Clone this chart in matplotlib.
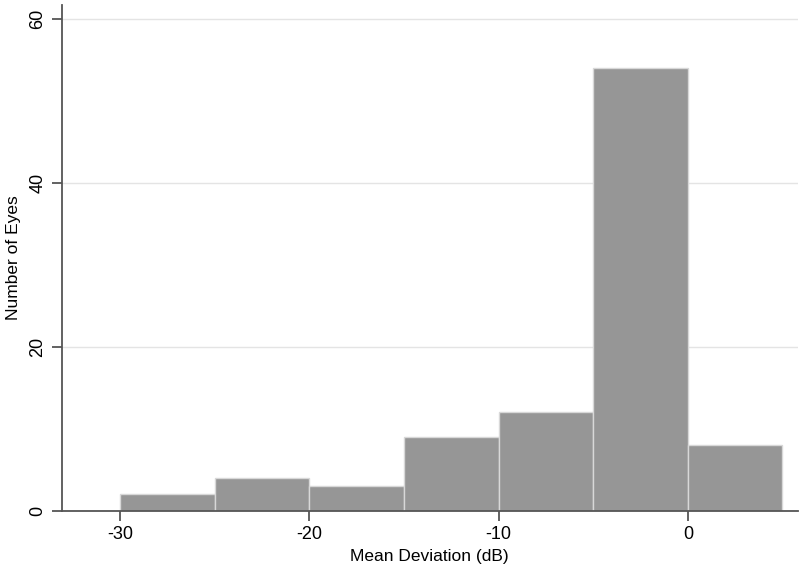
import matplotlib
matplotlib.use("Agg")
from matplotlib import pyplot

# histogram of mean deviation, 5 dB bins
bin_edges = [-30, -25, -20, -15, -10, -5, 0, 5]
counts = [2, 4, 3, 9, 12, 54, 8]
x_ticks = [-30, -20, -10, 0]
y_ticks = [0, 20, 40, 60]

pyplot.rcParams['font.family'] = ['Liberation Sans', 'DejaVu Sans']
pyplot.rcParams['axes.unicode_minus'] = False

fig = pyplot.figure(figsize=(8, 5.72), dpi=100, facecolor='w')
ax = fig.add_axes([0.077, 0.107, 0.92, 0.884])

widths = [bin_edges[i + 1] - bin_edges[i] for i in range(len(counts))]
ax.bar(bin_edges[:-1], counts, width=widths, align='edge', color='#969696',
       edgecolor='#d8d8d8', linewidth=1, zorder=2)

ax.set_xlim(-33.1, 5.8)
ax.set_ylim(0, 61.7)
ax.set_xticks(x_ticks)
ax.set_yticks(y_ticks)
ax.set_yticklabels([str(v) for v in y_ticks], rotation=90, va='center')
ax.grid(axis='y', color='#e4e4e4', linewidth=1, zorder=0)

for s in ['top', 'right']:
    ax.spines[s].set_visible(False)
for s in ['left', 'bottom']:
    ax.spines[s].set_color('#555555')
    ax.spines[s].set_linewidth(1.3)
    ax.spines[s].set_zorder(3)
ax.tick_params(direction='out', length=7, width=1.3, color='#555555', labelsize=13, pad=4)

ax.set_xlabel("Mean Deviation (dB)", fontsize=12.5, labelpad=4)
ax.set_ylabel("Number of Eyes", fontsize=12.5, labelpad=6)

pyplot.savefig("out.png", dpi=100)
